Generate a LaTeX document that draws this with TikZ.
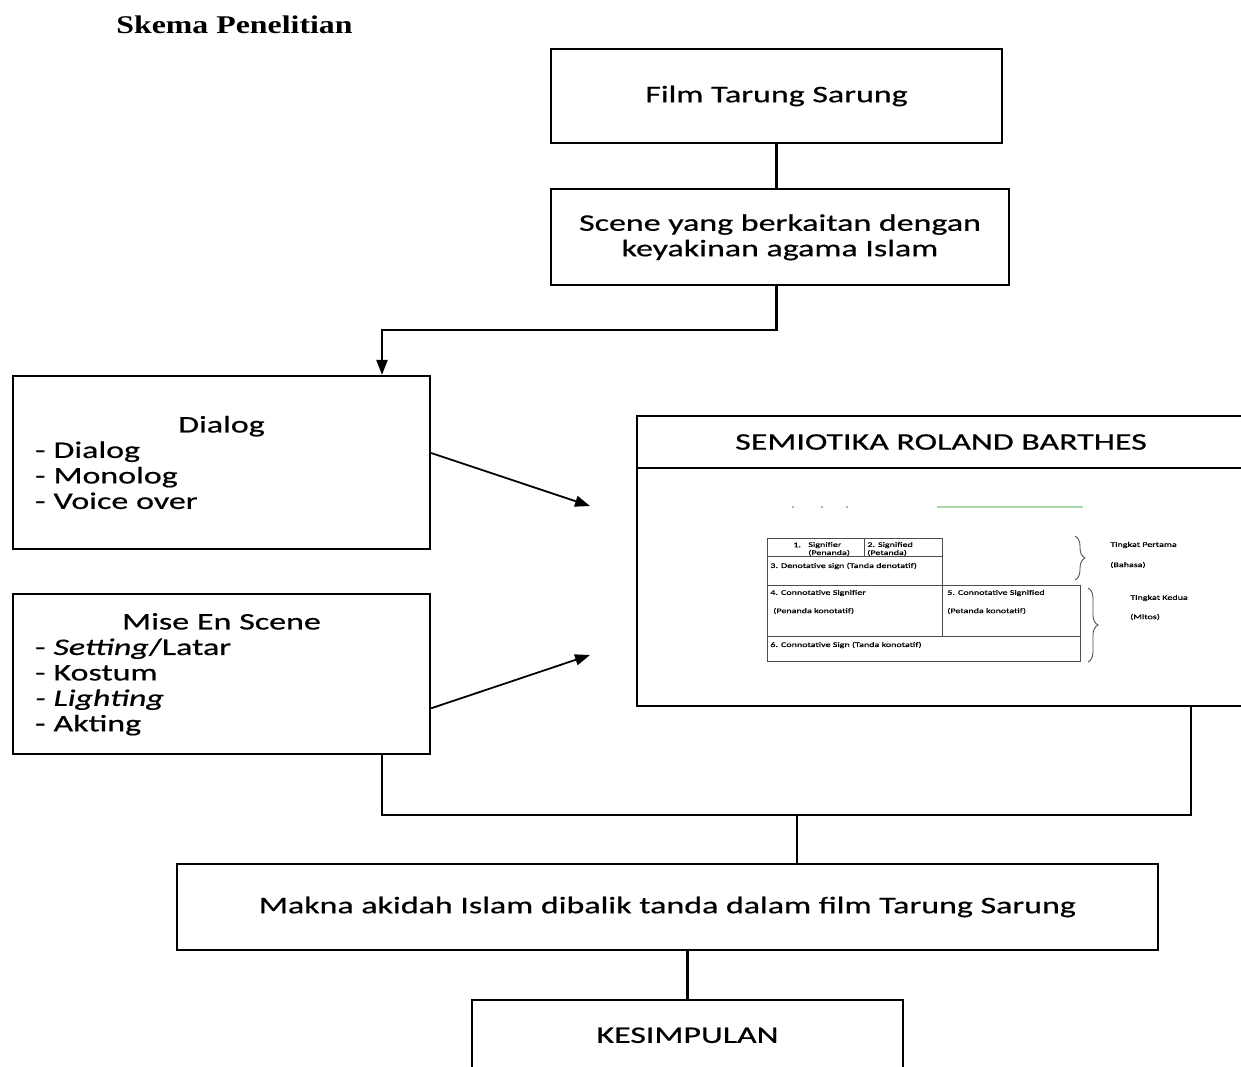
\documentclass[tikz,border=0pt]{standalone}
\usepackage{fontspec}
\setmainfont{Carlito}[FakeStretch=1.43,FakeBold=0.6]
\newfontfamily\judulfont{Liberation Serif}[FakeStretch=1.25]
\usetikzlibrary{positioning,arrows.meta,decorations.pathreplacing}
\definecolor{hijaupucat}{RGB}{170,212,170}

\begin{document}
\begin{tikzpicture}[
  every node/.style={
    rectangle,
    font=\fontsize{13.5}{14.5}\selectfont,
  },
  kotak/.style={draw, line width=1.3pt, align=center},
  daftar/.style={kotak, align=left, text width=7.45cm, minimum width=8.34cm},
  kecil/.style={font=\fontsize{4}{4.6}\selectfont, inner sep=0pt, anchor=west, align=left},
  garis/.style={line width=1.3pt},
  panah/.style={garis, -{Triangle[length=0.3cm,width=0.22cm]}},
  tabel/.style={line width=0.5pt, draw=black!70},
]
\useasboundingbox (0,0) rectangle (24.82,-21.32);
\clip (0,0) rectangle (24.82,-21.32);

\node[font=\judulfont\fontsize{14.5}{16}\selectfont\bfseries] (judul) at (4.69,-0.50) {Skema Penelitian};

\node[kotak, minimum width=9.02cm, minimum height=1.88cm] (film) at (15.53,-1.92) {Film Tarung Sarung};
\node[kotak, minimum width=9.16cm, minimum height=1.92cm, below=0.88cm of film, xshift=0.07cm] (adegan) {Scene yang berkaitan dengan\\keyakinan agama Islam};

\node[daftar, minimum height=3.46cm] (dialog) at (4.43,-9.25) {\centering Dialog\par\raggedright - Dialog\\- Monolog\\- Voice over};
\node[daftar, minimum height=3.20cm, below=0.86cm of dialog] (mise) {\centering Mise En Scene\par\raggedright - \textit{Setting}/Latar\\- Kostum\\\textit{- Lighting}\\- Akting};

\node[kotak, minimum width=12.16cm, minimum height=1.04cm] (semiotika) at (18.82,-8.84) {SEMIOTIKA ROLAND BARTHES};
\node[kotak, minimum width=12.16cm, minimum height=4.76cm, below=-1.3pt of semiotika] (barthes) {};

\fill[black!35] (15.86,-10.14) circle (0.025) (16.44,-10.14) circle (0.025) (16.94,-10.14) circle (0.025);
\draw[hijaupucat, line width=0.8pt] (18.74,-10.14) -- (21.66,-10.14);

\draw[tabel] (15.34,-10.76) rectangle (18.84,-11.70);
\draw[tabel] (17.28,-10.76) -- (17.28,-11.13) (15.34,-11.13) -- (18.84,-11.13);
\draw[tabel] (15.34,-11.70) rectangle (21.60,-13.22);
\draw[tabel] (18.84,-11.70) -- (18.84,-12.73) (15.34,-12.73) -- (21.60,-12.73);
\node[kecil] (n1) at (15.86,-10.90) {1.};
\node[kecil] (petanda1) at (16.16,-10.98) {Signifier\\(Penanda)};
\node[kecil] (petanda2) at (17.34,-10.98) {2. Signified\\(Petanda)};
\node[kecil] (denotatif) at (15.40,-11.32) {3. Denotative sign (Tanda denotatif)};
\node[kecil] (konotatif4) at (15.40,-11.86) {4. Connotative Signifier};
\node[kecil] (konotatif4b) at (15.46,-12.22) {(Penanda konotatif)};
\node[kecil] (konotatif5) at (18.94,-11.86) {5. Connotative Signified};
\node[kecil] (konotatif5b) at (18.94,-12.22) {(Petanda konotatif)};
\node[kecil] (konotatif6) at (15.40,-12.90) {6. Connotative Sign (Tanda konotatif)};
\draw[tabel, decorate, decoration={brace, amplitude=0.2cm}] (21.50,-10.72) -- (21.50,-11.60);
\draw[tabel, decorate, decoration={brace, amplitude=0.2cm}] (21.76,-11.76) -- (21.76,-13.24);
\node[kecil] (tingkat1) at (22.20,-10.90) {Tingkat Pertama};
\node[kecil] (bahasa) at (22.20,-11.30) {(Bahasa)};
\node[kecil] (tingkat2) at (22.60,-11.96) {Tingkat Kedua};
\node[kecil] (mitos) at (22.60,-12.34) {(Mitos)};

\node[kotak, minimum width=19.62cm, minimum height=1.72cm] (makna) at (13.35,-18.14) {Makna akidah Islam dibalik tanda dalam film Tarung Sarung};
\node[kotak, minimum width=8.62cm, minimum height=1.40cm, below=0.96cm of makna, xshift=0.40cm] (kesimpulan) {KESIMPULAN};

\coordinate (belok) at (7.64,-6.60);
\coordinate (ujungdialog) at (11.80,-10.12);
\coordinate (ujungmise) at (11.80,-13.10);
\coordinate (gabung) at (15.94,-16.30);
\coordinate (kakimise) at ([xshift=3.21cm]mise.south);
\coordinate (kakisemio) at ([xshift=5cm]barthes.south);

\draw[garis] (film.south) -- (film.south |- adegan.north);
\draw[panah] (film.south |- adegan.south) |- (belok) -- (belok |- dialog.north);
\draw[panah, line width=1pt] ([yshift=0.19cm]dialog.east) -- (ujungdialog);
\draw[panah, line width=1pt] ([yshift=-0.68cm]mise.east) -- (ujungmise);
\draw[garis] (kakimise) |- (gabung) -| (kakisemio);
\draw[garis] (gabung) -- (gabung |- makna.north);
\draw[garis] (kesimpulan.north) -- (kesimpulan.north |- makna.south);
\end{tikzpicture}
\end{document}
